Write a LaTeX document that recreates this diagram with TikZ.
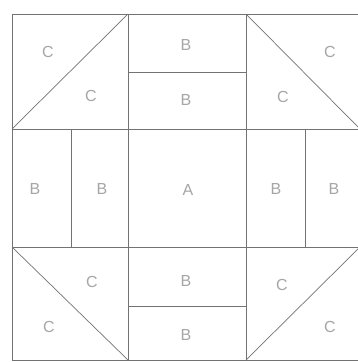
\documentclass[tikz,border=0pt]{standalone}
\usepackage{fontspec}
\setmainfont{Liberation Sans}
\begin{document}
\begin{tikzpicture}[x=1pt,y=-1pt,
  seam/.style={draw=black!55,line width=0.7pt},
  lbl/.style={text=black!35,font=\fontsize{16}{16}\selectfont,inner sep=0pt}]
\useasboundingbox (0,0) rectangle (358,362);
\fill[white] (0,0) rectangle (358,362);
% grid coordinates
\coordinate (x0y0) at (12,14);   \coordinate (x1y0) at (128,14);  \coordinate (x2y0) at (246,14);  \coordinate (x3y0) at (360,14);
\coordinate (x0y1) at (12,129);  \coordinate (x1y1) at (128,129); \coordinate (x2y1) at (246,129); \coordinate (x3y1) at (360,129);
\coordinate (x0y2) at (12,247);  \coordinate (x1y2) at (128,247); \coordinate (x2y2) at (246,247); \coordinate (x3y2) at (360,247);
\coordinate (x0y3) at (12,360);  \coordinate (x1y3) at (128,360); \coordinate (x2y3) at (246,360); \coordinate (x3y3) at (360,360);
% sub-dividers
\coordinate (tm1) at (128,72);  \coordinate (tm2) at (246,72);
\coordinate (bm1) at (128,306); \coordinate (bm2) at (246,306);
\coordinate (ml1) at (71,129);  \coordinate (ml2) at (71,247);
\coordinate (mr1) at (305,129); \coordinate (mr2) at (305,247);
% outer lines and grid
\draw[seam] (x3y0) -- (x0y0) -- (x0y3) -- (x3y3);
\draw[seam] (x0y1) -- (x3y1);
\draw[seam] (x0y2) -- (x3y2);
\draw[seam] (x1y0) -- (x1y3);
\draw[seam] (x2y0) -- (x2y3);
\draw[seam] (tm1) -- (tm2);
\draw[seam] (bm1) -- (bm2);
\draw[seam] (ml1) -- (ml2);
\draw[seam] (mr1) -- (mr2);
% diagonals
\draw[seam] (x0y1) -- (x1y0);
\draw[seam] (x2y0) -- (x3y1);
\draw[seam] (x0y2) -- (x1y3);
\draw[seam] (x2y3) -- (x3y2);
% labels
\node[lbl] (c1) at (48,52) {C};
\node[lbl] (c2) at (91,96) {C};
\node[lbl] (b1) at (186,45) {B};
\node[lbl] (b2) at (186,100) {B};
\node[lbl] (c3) at (330,52) {C};
\node[lbl] (c4) at (283,97) {C};
\node[lbl] (b3) at (35,189) {B};
\node[lbl] (b4) at (102,189) {B};
\node[lbl] (a1) at (188,190) {A};
\node[lbl] (b5) at (276,189) {B};
\node[lbl] (b6) at (334,189) {B};
\node[lbl] (c5) at (92,282) {C};
\node[lbl] (c6) at (49,327) {C};
\node[lbl] (b7) at (186,281) {B};
\node[lbl] (b8) at (186,335) {B};
\node[lbl] (c7) at (282,285) {C};
\node[lbl] (c8) at (330,327) {C};
\end{tikzpicture}
\end{document}
